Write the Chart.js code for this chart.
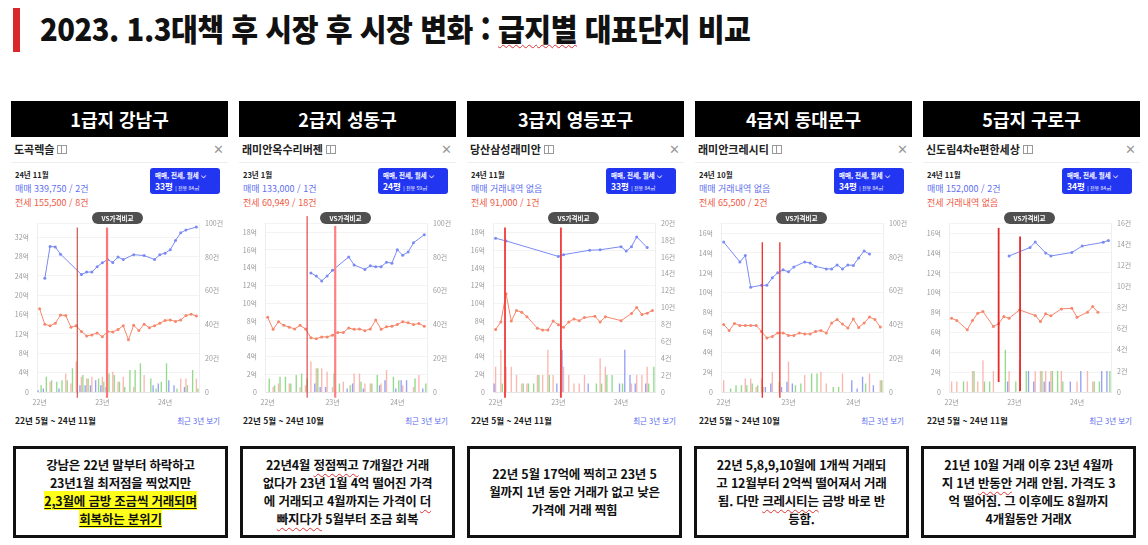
<!DOCTYPE html>
<html lang="ko">
<head>
<meta charset="utf-8">
<script src="https://cdn.jsdelivr.net/npm/chart.js@4.4.1/dist/chart.umd.min.js"></script>
<style>
  body { margin:0; width:1148px; height:545px; background:#fff; position:relative; overflow:hidden;
         font-family:"Noto Sans CJK KR","Noto Sans",sans-serif; color:#111; }
  #redbar { position:absolute; left:13px; top:8px; width:7px; height:44px; background:#d8282b; }
  #title { position:absolute; left:40px; top:5px; font-size:31px; font-weight:900; line-height:46px;
           white-space:nowrap; transform:scaleX(0.94); transform-origin:left center; letter-spacing:-0.5px; }
  .squig { text-decoration:underline wavy #d33; text-decoration-thickness:1px; text-underline-offset:3px; }
  .panel { position:absolute; top:101px; width:217px; height:335px; }
  .head { position:absolute; left:0; top:0; width:217px; height:36px; background:#000; color:#fff;
          font-size:18px; font-weight:700; text-align:center; line-height:36px; }
  .name { position:absolute; left:3px; top:40px; font-size:11px; font-weight:700; color:#222; white-space:nowrap; }
  .map { display:inline-block; width:8px; height:7px; border:1px solid #999; margin-left:3px; vertical-align:0px;
         background:linear-gradient(90deg,transparent 3px,#999 3px,#999 4px,transparent 4px); }
  .close { position:absolute; right:4px; top:38px; font-size:13px; color:#999; }
  .sep { position:absolute; left:0; top:61px; width:217px; height:1px; background:#eee; }
  .date { position:absolute; left:4px; top:68px; font-size:7.5px; font-weight:700; color:#222; }
  .sale { position:absolute; left:4px; top:81px; font-size:9px; color:#6270ee; white-space:nowrap; }
  .jeonse { position:absolute; left:4px; top:95px; font-size:9px; color:#f0583f; white-space:nowrap; }
  .btn { position:absolute; left:139px; top:67px; width:70px; height:26px; background:#2236f2; border-radius:3px;
         color:#fff; font-weight:700; box-sizing:border-box; padding:2px 0 0 5px; line-height:11px; }
  .btn .l1 { font-size:6.5px; }
  .btn .l2 { font-size:8.5px; }
  .btn .l2 small { font-size:5px; font-weight:400; }
  .vs { position:absolute; left:81px; top:111px; width:51px; height:12px; background:#4f4f4f; border-radius:6px;
        color:#fff; font-size:6.5px; font-weight:700; text-align:center; line-height:12px; z-index:2; }
  .cv { position:absolute; left:0; top:110px; width:217px; height:200px; z-index:1; }
  .range { position:absolute; left:4px; top:313px; font-size:8.5px; font-weight:700; color:#222; white-space:nowrap; }
  .recent { position:absolute; right:8px; top:314px; font-size:7.5px; color:#5868ee; }
  .note { position:absolute; top:446px; width:215px; height:92px; border:3px solid #111; box-sizing:border-box;
          display:flex; align-items:center; justify-content:center; text-align:center;
          font-size:12.5px; font-weight:700; line-height:18px; letter-spacing:-0.2px; }
  .hl { background:#ffff1a; text-decoration:underline; text-underline-offset:2px; }
</style>
</head>
<body>
<div id="redbar"></div>
<div id="title">2023. 1.3대책 후 시장 후 시장 변화 : <span class="squig">급지별</span> 대표단지 비교</div>

<script>
// ---- panel texts ----
const heads = ['1급지 강남구', '2급지 성동구', '3급지 영등포구', '4급지 동대문구', '5급지 구로구'];
const aptNames = ['도곡렉슬', '래미안옥수리버젠', '당산삼성래미안', '래미안크레시티', '신도림4차e편한세상'];
const baseMonths = ['24년 11월', '23년 1월', '24년 11월', '24년 10월', '24년 11월'];
const saleTexts = ['매매 339,750 / 2건', '매매 133,000 / 1건', '매매 거래내역 없음', '매매 거래내역 없음', '매매 152,000 / 2건'];
const jeonseTexts = ['전세 155,500 / 8건', '전세 60,949 / 18건', '전세 91,000 / 1건', '전세 65,500 / 2건', '전세 거래내역 없음'];
const pyeongs = ['33평', '24평', '33평', '34평', '34평'];
const areas = ['전용 84㎡', '전용 59㎡', '전용 84㎡', '전용 84㎡', '전용 84㎡'];
const ranges = ['22년 5월 ~ 24년 11월', '22년 5월 ~ 24년 10월', '22년 5월 ~ 24년 11월', '22년 5월 ~ 24년 10월', '22년 5월 ~ 24년 11월'];
const yearTicks = ['22년', '23년', '24년'];   // one every 12 slots

// ---- axes (억 on the left, 건 on the right) ----
const monthCounts = [31, 30, 31, 30, 31];
const priceMax = [34.9, 19, 19.05, 17, 17];
const priceStep = [4, 2, 2, 2, 2];
const countMax = [100, 100, 20, 100, 16];
const countStep = [20, 20, 2, 20, 2];

// ---- prices (억) ----
const n = null;
const salePrice1 = [n,23.5,30.1,30.0,28.5,n,n,n,24.3,24.8,24.8,25.9,26.7,27.4,26.8,27.9,27.4,n,28.4,n,28.2,n,27.4,28.4,28.7,29.4,31.3,32.9,33.5,n,34.1];
const jeonsePrice1 = [17.2,14.0,13.7,14.2,15.9,15.8,13.4,13.7,12.5,11.6,11.8,12.2,11.4,12.5,12.4,12.9,13.7,10.8,13.8,12.7,14.0,13.3,13.7,14.2,14.8,14.9,14.6,14.9,15.8,16.1,15.7];
const salePrice2 = [n,n,n,n,n,n,n,n,13.4,13.05,12.5,13.05,13.7,n,n,15.2,14.3,n,13.8,14.2,14.1,14.1,14.6,14.5,16.0,15.4,15.75,16.8,n,17.7];
const jeonsePrice2 = [8.4,7.05,7.9,7.5,7.3,7.1,7.5,7.1,6.1,6.0,6.2,6.2,6.4,6.7,6.7,7.2,7.05,7.1,6.9,7.1,8.1,7.05,7.35,7.4,7.6,7.9,7.8,7.6,7.7,7.4];
const salePrice3 = [17.35,n,17.05,n,n,n,n,n,n,n,n,n,15.3,15.5,n,n,n,n,16.0,n,16.05,n,n,n,16.4,15.9,16.4,17.5,n,16.3,n];
const jeonsePrice3 = [7.05,7.9,11.1,8.0,9.2,9.0,8.5,n,7.2,7.0,7.0,8.0,7.6,7.3,7.9,8.25,8.05,8.4,n,8.55,7.9,8.5,n,n,8.05,n,8.85,9.55,8.75,8.9,9.2];
const salePrice4 = [15.1,n,n,13.1,13.75,10.55,n,10.75,10.75,11.5,12.0,12.3,12.1,12.6,n,13.1,13.0,12.65,n,12.4,12.4,12.8,12.4,12.8,12.75,13.5,14.2,13.9,n,n];
const jeonsePrice4 = [6.8,6.2,6.9,6.7,6.7,6.7,6.7,6.1,5.45,5.6,5.95,5.95,5.7,5.7,5.95,5.85,5.85,6.1,6.2,5.95,6.95,7.3,6.85,6.45,7.35,6.5,6.95,7.55,7.3,6.55];
const salePrice5 = [n,n,n,n,n,n,n,n,n,n,n,13.7,n,n,n,14.55,15.1,n,14.0,13.7,n,n,n,14.05,n,14.7,n,n,n,15.07,15.27];
const jeonsePrice5 = [7.43,7.2,n,6.27,7.2,7.93,8.1,n,6.6,6.87,7.6,7.43,n,8.27,n,n,7.7,7.1,7.87,7.67,n,8.37,n,8.43,7.53,n,8.03,8.6,8.03,n,n];

// ---- deal counts (건): 매매 / 전세 / 월세 ----
const saleCnt1 = [1,2,0,0,2,0,0,0,4,4,4,7,4,3,0,0,0,0,0,0,0,0,4,5,0,7,4,0,3,0,0];
const jeonseCnt1 = [0,0,6,0,0,11,5,18,9,8,9,0,9,0,12,6,9,0,3,0,10,0,0,0,0,0,0,8,8,0,8];
const wolseCnt1 = [4,9,7,6,7,7,14,0,10,8,0,8,6,11,10,6,3,13,13,17,0,8,2,6,17,0,2,0,4,13,2];
const saleCnt2 = [0,0,0,0,0,0,0,0,0,5,3,3,0,0,0,2,5,0,2,0,0,4,7,0,2,7,7,0,0,2];
const jeonseCnt2 = [0,3,5,0,5,0,3,4,18,14,14,12,3,0,6,0,11,11,5,5,0,5,13,0,0,4,0,3,10,0];
const wolseCnt2 = [8,4,9,9,5,10,11,8,0,14,0,0,11,5,0,4,0,6,0,5,10,0,0,9,7,0,0,8,0,5];
const saleCnt3 = [1,0,0,0,0,0,0,0,0,0,0,0,1,5,0,0,0,0,1,0,0,0,0,0,1,5,2,1,0,1,0];
const jeonseCnt3 = [3,5,3,3,2,1,1,0,2,2,5,2,0,3,2,1,1,2,0,0,4,3,0,0,0,0,1,2,2,3,0];
const wolseCnt3 = [0,1,0,0,0,1,1,1,2,0,2,0,0,0,0,0,0,0,0,1,1,2,2,0,1,0,0,0,0,1,3];
const saleCnt4 = [0,0,0,0,0,0,0,0,3,5,0,3,6,5,0,0,0,0,0,0,0,0,0,0,7,2,9,0,4,0];
const jeonseCnt4 = [7,0,0,0,8,8,3,8,0,12,0,0,18,0,0,10,0,0,12,5,0,0,11,0,0,0,0,11,0,7];
const wolseCnt4 = [0,2,4,4,4,5,4,3,0,0,6,0,0,4,5,0,11,11,0,0,3,3,0,0,0,0,5,0,0,7];
const saleCnt5 = [0,0,0,0,0,0,0,0,0,0,0,1,0,0,0,2,1,0,1,1,0,0,0,1,0,2,0,0,0,2,2];
const jeonseCnt5 = [1,1,0,1,2,1,3,0,2,0,0,2,0,3,0,0,2,2,2,2,0,2,0,0,1,0,2,1,0,0,0];
const wolseCnt5 = [0,0,1,0,2,0,1,1,0,0,4,0,1,0,2,0,0,2,0,2,2,1,0,0,0,0,0,1,1,0,2];

// ---- red marker lines drawn on the screenshots: month slot, top / bottom in 억 ----
const markerMonths = [[7.2, 12.9], [7.3, 12.5], [1.8, 12.5], [7.15, 10.4], [9.0, 13.1]];
const markerSpans = [[[34.0, -1.2], [34.0, -1.2]], [[19.8, -0.64], [18.7, -0.64]], [[18.56, -0.64], [18.56, -0.64]],
                     [[15.08, -0.57], [15.08, -0.57]], [[16.53, 1.0], [15.67, 0.1]]];

// ---- notes under each panel ----
const notes = [
  '강남은 22년 말부터 하락하고<br>23년1월 최저점을 찍었지만<br><span class="hl">2,3월에 금방 조금씩 거래되며</span><br><span class="hl">회복하는 분위기</span>',
  '22년4월 <span class="squig">정점찍고</span> 7개월간 거래<br>없다가 23년 1월 4억 떨어진 가격<br>에 거래되고 4월까지는 가격이 <span class="squig">더</span><br><span class="squig">빠지다가</span> 5월부터 조금 회복',
  '22년 5월 17억에 찍히고 23년 5<br>월까지 1년 동안 거래가 없고 낮은<br>가격에 거래 찍힘',
  '22년 5,8,9,10월에 1개씩 거래되<br>고 12월부터 2억씩 떨어져서 거래<br>됨. 다만 <span class="squig">크레시티는</span> 금방 바로 반<br>등함.',
  '21년 10월 거래 이후 23년 4월까<br>지 1년 <span class="squig">반동안</span> 거래 안됨. 가격도 3<br>억 떨어짐. 그 이후에도 8월까지<br>4개월동안 거래X'
];

const salePrices = [salePrice1, salePrice2, salePrice3, salePrice4, salePrice5];
const jeonsePrices = [jeonsePrice1, jeonsePrice2, jeonsePrice3, jeonsePrice4, jeonsePrice5];
const saleCnts = [saleCnt1, saleCnt2, saleCnt3, saleCnt4, saleCnt5];
const jeonseCnts = [jeonseCnt1, jeonseCnt2, jeonseCnt3, jeonseCnt4, jeonseCnt5];
const wolseCnts = [wolseCnt1, wolseCnt2, wolseCnt3, wolseCnt4, wolseCnt5];

// marker look per panel (thin dark + wide light on the first two)
const markerStyles = [
  [['#c4302b', 1], ['#ff7474', 2.2]],
  [['#d8262b', 1], ['#ff8080', 2.2]],
  [['#f23a3a', 1.8], ['#f23a3a', 1.8]],
  [['#ee2a2a', 1.3], ['#ee2a2a', 1.3]],
  [['#e62a2a', 1.8], ['#e62a2a', 1.8]]
];

const markerPlugin = {
  id: 'markers',
  afterDatasetsDraw(chart, args, opts) {
    const ctx = chart.ctx, x = chart.scales.x, y = chart.scales.y;
    opts.months.forEach((m, i) => {
      const px = x.getPixelForValue(m);
      ctx.save();
      ctx.strokeStyle = opts.styles[i][0];
      ctx.lineWidth = opts.styles[i][1];
      ctx.beginPath();
      ctx.moveTo(px, y.getPixelForValue(opts.spans[i][0]));
      ctx.lineTo(px, y.getPixelForValue(opts.spans[i][1]));
      ctx.stroke();
      ctx.restore();
    });
  }
};

const tickFont = { size: 7, family: 'Noto Sans CJK KR' };

function buildPanel(i) {
  const p = document.createElement('div');
  p.className = 'panel';
  p.style.left = (11 + i * 228) + 'px';
  p.innerHTML =
    '<div class="head">' + heads[i] + '</div>' +
    '<div class="name">' + aptNames[i] + '<span class="map"></span></div>' +
    '<div class="close">✕</div><div class="sep"></div>' +
    '<div class="date">' + baseMonths[i] + '</div>' +
    '<div class="sale">' + saleTexts[i] + '</div>' +
    '<div class="jeonse">' + jeonseTexts[i] + '</div>' +
    '<div class="btn"><div class="l1">매매, 전세, 월세 ⌵</div><div class="l2">' + pyeongs[i] +
      ' <small>| ' + areas[i] + '</small></div></div>' +
    '<div class="vs">VS가격비교</div>' +
    '<div class="cv"><canvas width="217" height="200"></canvas></div>' +
    '<div class="range">' + ranges[i] + '</div>' +
    '<div class="recent">최근 3년 보기</div>';
  document.body.appendChild(p);

  const note = document.createElement('div');
  note.className = 'note';
  note.style.left = (13 + i * 227) + 'px';
  note.innerHTML = '<div>' + notes[i] + '</div>';
  document.body.appendChild(note);

  const labels = [];
  for (let k = 0; k < monthCounts[i]; k++) labels.push(String(k));

  const bar = (data, color) => ({
    type: 'bar', data: data, yAxisID: 'y2', backgroundColor: color, order: 2,
    barPercentage: 0.9, categoryPercentage: 0.85
  });
  const line = (data, color) => ({
    type: 'line', data: data, yAxisID: 'y', borderColor: color, backgroundColor: color,
    borderWidth: 1, pointRadius: 1.5, pointBorderWidth: 0, spanGaps: true, tension: 0, order: 0
  });

  new Chart(p.querySelector('canvas'), {
    data: {
      labels: labels,
      datasets: [
        line(salePrices[i], '#7a8bf4'),
        line(jeonsePrices[i], '#f7876c'),
        bar(saleCnts[i], 'rgba(118,128,240,0.75)'),
        bar(jeonseCnts[i], 'rgba(247,160,148,0.75)'),
        bar(wolseCnts[i], 'rgba(128,212,118,0.85)')
      ]
    },
    options: {
      responsive: false, animation: false,
      layout: { padding: { top: 11 } },
      plugins: {
        legend: { display: false }, tooltip: { enabled: false },
        markers: { months: markerMonths[i], spans: markerSpans[i], styles: markerStyles[i] }
      },
      scales: {
        x: {
          grid: { display: false, drawTicks: false }, border: { color: '#e6e6e6' },
          ticks: { font: tickFont, color: '#999', padding: 6, maxRotation: 0, autoSkip: false,
                   callback: (v, idx) => idx % 12 === 0 ? yearTicks[idx / 12] : '' },
          afterFit: s => { s.height = 19; }
        },
        y: {
          position: 'left', min: 0, max: priceMax[i],
          grid: { color: '#f3f3f3', drawTicks: false }, border: { color: '#eeeeee' },
          ticks: { stepSize: priceStep[i], font: tickFont, color: '#999', padding: 8, autoSkip: false,
                   callback: v => v === 0 ? '0' : (v % priceStep[i] === 0 ? v + '억' : '') },
          afterFit: s => { s.width = 26; }
        },
        y2: {
          position: 'right', min: 0, max: countMax[i],
          grid: { display: false, drawTicks: false }, border: { color: '#eeeeee' },
          ticks: { stepSize: countStep[i], font: tickFont, color: '#999', padding: 6, autoSkip: false,
                   callback: v => v === 0 ? '0' : v + '건' },
          afterFit: s => { s.width = 29; }
        }
      }
    },
    plugins: [markerPlugin]
  });
}

for (let i = 0; i < heads.length; i++) buildPanel(i);
</script>
</body>
</html>
